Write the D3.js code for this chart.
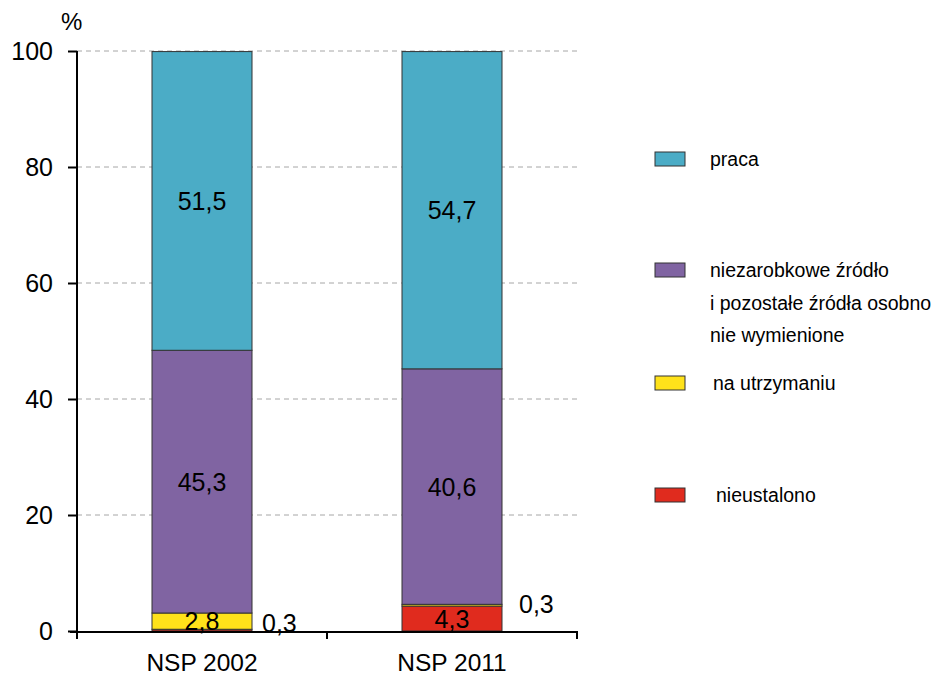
<!DOCTYPE html>
<html><head><meta charset="utf-8">
<script src="https://cdn.jsdelivr.net/npm/d3@7"></script>
<style>body{margin:0;background:#fff}svg{display:block}text{font-family:"Liberation Sans",Arial,sans-serif}</style>
</head><body>
<svg id="c" width="938" height="675"></svg>
<script>
const categories = ["NSP 2002", "NSP 2011"];
const nieustalono = [0.3, 4.3];
const naUtrzymaniu = [2.8, 0.3];
const niezarobkowe = [45.3, 40.6];
const praca = [51.5, 54.7];
const yTicks = [0, 20, 40, 60, 80, 100];
const colors = ["#E02B1E", "#FFE21A", "#8064A2", "#4BACC6"];
const legendItems = [
  {name:"praca", lines:["praca"], color:"#4BACC6"},
  {name:"niezarobkowe", lines:["niezarobkowe źródło","i pozostałe źródła osobno","nie wymienione"], color:"#8064A2"},
  {name:"na utrzymaniu", lines:["na utrzymaniu"], color:"#FFE21A"},
  {name:"nieustalono", lines:["nieustalono"], color:"#E02B1E"}
];

const svg = d3.select("#c");
const x = d3.scaleBand().domain(categories).range([77, 577]).paddingInner(0.6).paddingOuter(0.3);
const y = d3.scaleLinear().domain([0, 100]).range([631, 51]);

svg.append("g").selectAll("line").data(yTicks.filter(d => d > 0)).join("line")
  .attr("x1", 77).attr("x2", 578).attr("y1", d => y(d)).attr("y2", d => y(d))
  .attr("stroke", "#a6a6a6").attr("stroke-width", 1).attr("stroke-dasharray", "5,4");

const table = categories.map((c, i) => ({cat: c, s0: nieustalono[i], s1: naUtrzymaniu[i], s2: niezarobkowe[i], s3: praca[i]}));
const stack = d3.stack().keys(["s0","s1","s2","s3"])(table);

const g = svg.append("g");
stack.forEach((layer, li) => {
  g.selectAll(null).data(layer).join("rect")
    .attr("x", d => x(d.data.cat))
    .attr("width", x.bandwidth())
    .attr("y", d => y(d[1]))
    .attr("height", d => y(d[0]) - y(d[1]))
    .attr("fill", colors[li])
    .attr("stroke", "#333").attr("stroke-width", 1);
});

const lab = svg.append("g").attr("font-size", 25).attr("fill", "#000");
stack.forEach((layer, li) => {
  layer.forEach((d, i) => {
    const v = d[1] - d[0];
    const cx = x(d.data.cat) + x.bandwidth() / 2;
    const txt = d3.format(".1f")(v).replace(".", ",");
    if (v >= 1) {
      lab.append("text").attr("x", cx).attr("y", y((d[0] + d[1]) / 2) + 9)
        .attr("text-anchor", "middle").text(txt);
    } else {
      lab.append("text").attr("x", x(d.data.cat) + x.bandwidth() + (i === 0 ? 10 : 17))
        .attr("y", i === 0 ? 632 : 613).attr("text-anchor", "start").text(txt);
    }
  });
});

const yAxis = svg.append("g").attr("transform", "translate(77,0)")
  .call(d3.axisLeft(y).tickValues(yTicks).tickSize(9).tickPadding(15));
yAxis.select(".domain").attr("stroke", "#000").attr("stroke-width", 2).attr("d", "M0,51V632");
yAxis.selectAll(".tick line").attr("stroke", "#000").attr("stroke-width", 2);
yAxis.selectAll(".tick text").attr("font-size", 25).attr("fill", "#000").attr("font-family", "Liberation Sans, Arial, sans-serif");

const xAxis = svg.append("g").attr("transform", "translate(0,632)");
xAxis.append("line").attr("x1", 70).attr("x2", 578).attr("stroke", "#000").attr("stroke-width", 2);
xAxis.selectAll(".t").data([77, 327, 577]).join("line")
  .attr("x1", d => d).attr("x2", d => d).attr("y1", 0).attr("y2", 7).attr("stroke", "#000").attr("stroke-width", 2);
xAxis.selectAll("text").data(categories).join("text")
  .attr("x", d => x(d) + x.bandwidth() / 2).attr("y", 39)
  .attr("text-anchor", "middle").attr("font-size", 24.5).text(d => d);

svg.append("text").attr("x", 61).attr("y", 30).attr("font-size", 24).text("%");

const legY = [152, 263, 376, 488];
const legTx = [710, 710, 713, 716];
const leg = svg.append("g");
legendItems.forEach((it, i) => {
  leg.append("rect").attr("x", 655).attr("y", legY[i]).attr("width", 30).attr("height", 14)
    .attr("fill", it.color).attr("stroke", "#333").attr("stroke-width", 1);
  it.lines.forEach((t, j) => {
    leg.append("text").attr("x", legTx[i]).attr("y", legY[i] + 14 + j * 32.5)
      .attr("font-size", 19.5).text(t);
  });
});
</script>
</body></html>
